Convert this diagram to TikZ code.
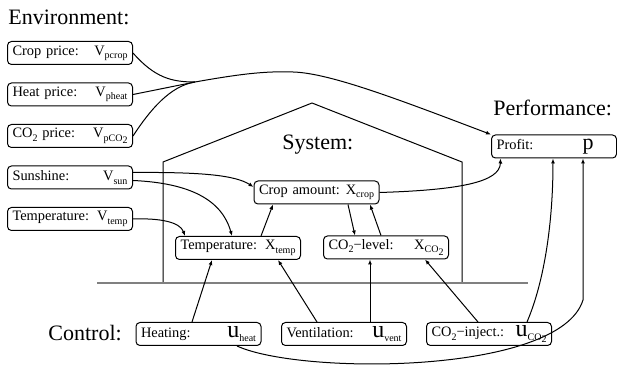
\documentclass[tikz,border=0pt]{standalone}
\usepackage{fontspec}
\setmainfont{Liberation Serif}
\usetikzlibrary{arrows.meta, positioning}
\newcommand*{\low}[1]{\raisebox{-0.5ex}{\fontsize{5}{5}\selectfont #1}}
\newcommand*{\ctl}[1]{{\fontsize{12}{12}\selectfont u}\low{#1}}
\tikzstyle{block} = [draw, rectangle, rounded corners=2pt, line width=0.5pt, minimum height=11.5pt, text width=57.5pt, inner xsep=2.5pt, inner ysep=1pt, font=\fontsize{7.2}{9}\selectfont]
\tikzstyle{title} = [font=\fontsize{11}{13}\selectfont, inner sep=0pt, anchor=base west]
\tikzstyle{flow} = [-{Latex[length=2.5pt, width=2pt]}, line width=0.5pt]
\tikzstyle{wire} = [line width=0.5pt]
\tikzstyle{house} = [line width=0.5pt]
\tikzstyle{ground} = [line width=1pt, gray]

\begin{document}
\begin{tikzpicture}[x=0.5pt, y=-0.5pt, node distance=8.75pt]
    \useasboundingbox (0,0) rectangle (617,369);

    % Greenhouse.
    \draw [house] (163,283) -- (163,162) -- (312,103) -- (462,162) -- (462,283);
    \draw [ground] (97,283) -- (528,283);

    \node (env) [title] at (8,25) {Environment:};
    \node (sys) [title] at (282,150) {System:};
    \node (perf) [title] at (493,116) {Performance:};
    \node (ctrl) [title] at (48,341) {Control:};

    % Environment.
    \node (cprice) [block] at (70,53) {Crop price:\hfill V\low{pcrop}};
    \node (hprice) [block, below=of cprice] {Heat price:\hfill V\low{pheat}};
    \node (gprice) [block, below=of hprice] {CO\low{2} price:\hfill V\low{pCO\low{2}}};
    \node (sun) [block, below=of gprice] {Sunshine:\hfill V\low{sun}};
    \node (tout) [block, below=of sun] {Temperature:\hfill V\low{temp}};

    % System.
    \node (crop) [block] at (316.5,192.5) {Crop amount:\hfill X\low{crop}};
    \node (tin) [block] at (238,248) {Temperature:\hfill X\low{temp}};
    \node (co2) [block] at (386,247.5) {CO\low{2}−level:\hfill X\low{CO\low{2}}};

    % Control.
    \node (heat) [block] at (198.5,334) {Heating:\hfill \ctl{heat}};
    \node (vent) [block] at (344,334) {Ventilation:\hfill \ctl{vent}};
    \node (inj) [block] at (489,334) {CO\low{2}−inject.:\hfill \ctl{CO\low{2}}};

    % Performance.
    \node (profit) [block] at (554,146.5) {Profit:\hfill{\fontsize{11}{11}\selectfont p}\kern9pt};
    \coordinate (junc) at (195,82);

    % Arrows.
    \draw [wire] (cprice.east) .. controls (155,78) and (172,82) .. (junc);
    \draw [wire] (hprice.east) -- (junc);
    \draw [wire] (gprice.east) .. controls (150,110) and (170,86) .. (junc);
    \draw [flow] (junc) .. controls (240,74) and (265,71) .. (293,72) .. controls (330,73) and (400,100) .. (profit.north west);
    \draw [flow] ([yshift=2.5pt]sun.east) .. controls (200,172) and (235,175) .. ([yshift=2.75pt]crop.west);
    \draw [flow] ([yshift=-1.5pt]sun.east) .. controls (190,183) and (222,200) .. ([xshift=-3pt]tin.north);
    \draw [flow] (tout.east) .. controls (160,218) and (180,222) .. ([xshift=-26.5pt]tin.north);
    \draw [flow] ([xshift=11.5pt]tin.north) -- ([xshift=-21.75pt]crop.south);
    \draw [flow] ([xshift=15.75pt]crop.south) -- ([xshift=-15.5pt]co2.north);
    \draw [flow] ([xshift=-2.5pt]co2.north) -- ([xshift=26.75pt]crop.south);
    \draw [flow] (crop.east) .. controls (460,190) and (500,182) .. ([xshift=4.75pt]profit.south west);
    \draw [flow] ([xshift=-3.25pt]heat.north) -- ([xshift=-13pt]tin.south);
    \draw [flow] ([xshift=-13.5pt]vent.north) -- ([xshift=20pt]tin.south);
    \draw [flow] ([xshift=13pt]vent.north) -- ([xshift=-8pt]co2.south);
    \draw [flow] ([xshift=-5.5pt]inj.north) -- ([xshift=19.5pt]co2.south);
    \draw [flow] ([xshift=19pt]inj.north) .. controls (545,280) and (553,220) .. ([xshift=-0.5pt]profit.south);
    \draw [flow] ([xshift=19.25pt]heat.south) .. controls (300,375) and (560,375) .. (583,300) -- ([xshift=14.5pt]profit.south);
\end{tikzpicture}
\end{document}
